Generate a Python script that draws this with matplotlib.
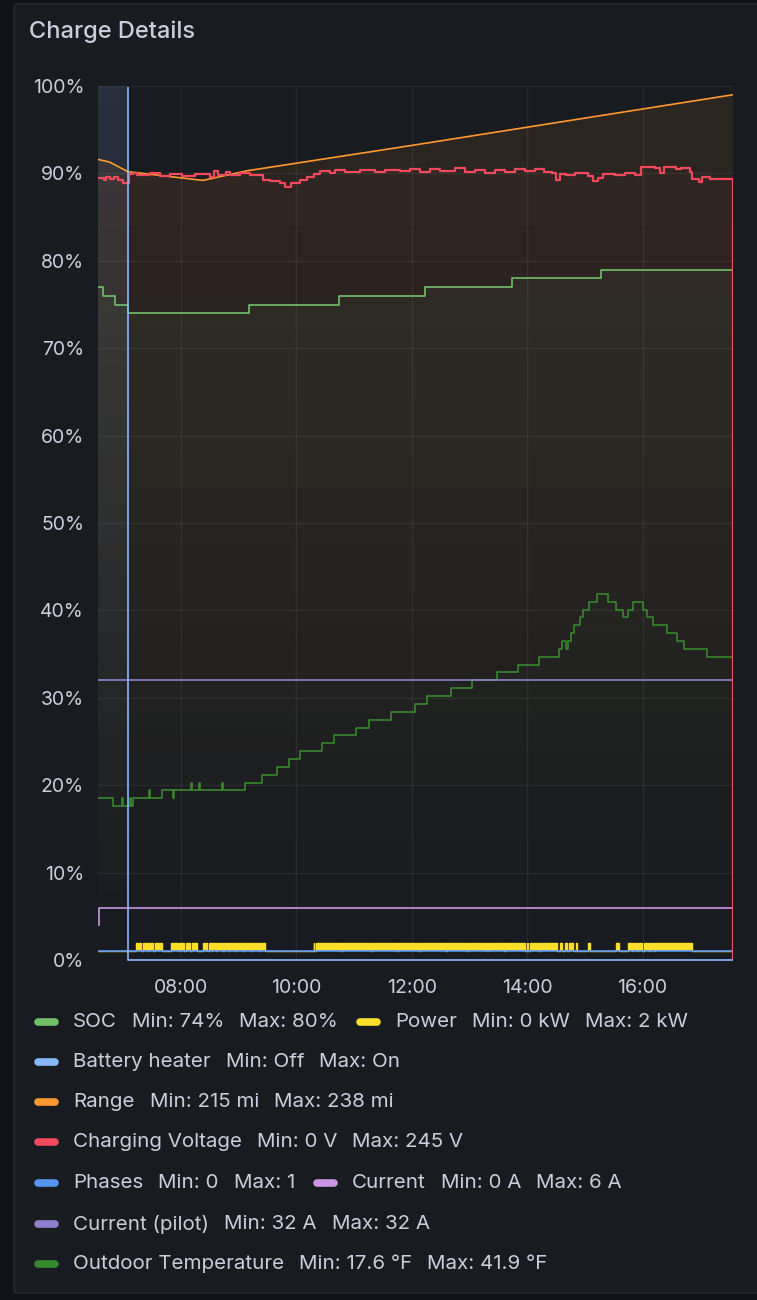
import matplotlib
matplotlib.use("Agg")
import matplotlib.pyplot as plt
import numpy as np
from matplotlib.lines import Line2D
from matplotlib.patches import FancyBboxPatch, Rectangle

plt.rcParams["font.family"] = ["Inter", "DejaVu Sans"]

# time window of the panel
t_start, t_end = "06:34", "17:34"

# SOC (%)
soc_t = ["06:34", "06:39", "06:52", "07:05", "09:11", "10:44", "12:14", "13:44", "15:17", "17:34"]
soc_v = [77, 76, 75, 74, 75, 76, 77, 78, 79, 79]

# Battery heater (drawn as 100 = On, 0 = Off)
heater_t = ["06:34", "07:05", "17:34"]
heater_v = [100, 0, 0]

# Range (as drawn on the % axis)
range_t = ["06:34", "06:46", "07:05", "08:23", "09:09", "12:00", "17:34"]
range_v = [91.6, 91.3, 90.2, 89.2, 90.3, 93.2, 99.0]

# Charging voltage (as drawn on the % axis)
volt_t = ["06:34", "06:40", "06:42", "06:46", "06:51", "06:55", "07:00", "07:06", "07:10", "07:15",
          "07:28", "07:38", "07:49", "08:01", "08:15", "08:30", "08:35", "08:39", "08:47", "08:51",
          "09:02", "09:12", "09:25", "09:33", "09:43", "09:48", "09:55", "10:04", "10:11", "10:19",
          "10:25", "10:35", "10:40", "10:51", "11:06", "11:22", "11:32", "11:48", "11:58", "12:09",
          "12:19", "12:29", "12:45", "12:55", "13:06", "13:16", "13:27", "13:37", "13:47", "13:58",
          "14:08", "14:18", "14:26", "14:30", "14:34", "14:40", "14:50", "15:03", "15:08", "15:14",
          "15:19", "15:31", "15:42", "15:52", "15:58", "16:13", "16:18", "16:22", "16:35", "16:40",
          "16:49", "16:51", "16:59", "17:02", "17:10", "17:34"]
volt_v = [89.5, 89.3, 89.6, 89.4, 89.6, 89.2, 88.9, 89.9, 90.1, 89.8,
          90.0, 89.7, 89.9, 89.7, 89.9, 89.6, 90.3, 89.8, 90.2, 89.8,
          90.0, 89.8, 89.3, 89.1, 88.9, 88.5, 88.9, 89.2, 89.6, 89.9,
          90.3, 90.1, 90.4, 90.2, 90.4, 90.2, 90.4, 90.3, 90.5, 90.2,
          90.5, 90.3, 90.6, 90.2, 90.4, 90.1, 90.4, 90.2, 90.5, 90.3,
          90.5, 90.2, 90.0, 89.3, 89.9, 89.8, 90.0, 89.7, 89.1, 89.5,
          89.9, 89.8, 90.0, 89.8, 90.7, 90.6, 90.1, 90.7, 90.5, 90.6,
          90.2, 89.4, 89.0, 89.6, 89.4, 0]

# Power: 1 kW baseline, 2 kW during these intervals
power_base = 1
power_high = 2
power_on = [("07:13", "07:19"), ("07:21", "07:26"), ("07:27", "07:31"), ("07:33", "07:40"),
            ("07:50", "07:57"), ("07:58", "08:03"), ("08:05", "08:10"), ("08:12", "08:17"),
            ("08:23", "08:27"), ("08:29", "08:32"), ("08:33", "08:37"), ("08:38", "08:44"),
            ("08:45", "08:50"), ("08:51", "08:57"), ("08:58", "09:05"), ("09:06", "09:14"),
            ("09:15", "09:20"), ("09:21", "09:28"),
            ("10:18", "10:19"), ("10:21", "10:47"), ("10:48", "11:18"), ("11:19", "11:45"),
            ("11:46", "12:08"), ("12:09", "12:36"), ("12:37", "12:59"), ("13:00", "13:18"),
            ("13:19", "13:36"), ("13:37", "13:58"), ("14:00", "14:01"), ("14:03", "14:12"),
            ("14:13", "14:31"), ("14:34", "14:36"), ("14:39", "14:41"), ("14:44", "14:48"),
            ("14:51", "14:52"), ("15:03", "15:05"), ("15:32", "15:36"), ("15:45", "15:49"),
            ("15:50", "15:54"), ("15:55", "15:59"), ("16:02", "16:07"), ("16:08", "16:12"),
            ("16:13", "16:51")]

# Phases, current, pilot current
phases_t = ["06:34", "17:34"]
phases_v = [1, 0]
current_t = ["06:34", "06:35", "17:34"]
current_v = [4, 6, 0]
pilot_t = ["06:34", "17:34"]
pilot_v = [32, 32]

# Outdoor temperature (°F)
temp_t = ["06:34", "06:50", "06:59", "07:00", "07:07", "07:08", "07:10", "07:27", "07:28", "07:41",
          "07:52", "07:53", "08:11", "08:12", "08:19", "08:20", "08:43", "08:44", "09:07", "09:24",
          "09:40", "09:52", "10:04", "10:27", "10:39", "11:02", "11:16", "11:39", "12:03", "12:16",
          "12:41", "13:03", "13:29", "13:51", "14:12", "14:33", "14:36", "14:40", "14:42", "14:46",
          "14:49", "14:55", "14:58", "15:04", "15:13", "15:24", "15:32", "15:40", "15:45", "15:50",
          "16:00", "16:05", "16:11", "16:25", "16:36", "16:43", "17:07", "17:34"]
temp_v = [18.5, 17.6, 18.5, 17.6, 18.5, 17.6, 18.5, 19.4, 18.5, 19.4,
          18.5, 19.4, 20.3, 19.4, 20.3, 19.4, 20.3, 19.4, 20.3, 21.2,
          22.1, 23.0, 23.9, 24.8, 25.7, 26.6, 27.5, 28.4, 29.3, 30.2,
          31.1, 32.0, 32.9, 33.8, 34.7, 35.6, 36.5, 35.6, 36.5, 37.4,
          38.3, 39.2, 40.1, 41.0, 41.9, 41.0, 40.1, 39.2, 40.1, 41.0,
          40.1, 39.2, 38.3, 37.4, 36.5, 35.6, 34.7, 34.7]

xticks = ["08:00", "10:00", "12:00", "14:00", "16:00"]

legend_rows = [
    [("SOC", "Min: 74%", "Max: 80%", "#73BF69"), ("Power", "Min: 0 kW", "Max: 2 kW", "#FADE2A")],
    [("Battery heater", "Min: Off", "Max: On", "#8AB8FF")],
    [("Range", "Min: 215 mi", "Max: 238 mi", "#FF9830")],
    [("Charging Voltage", "Min: 0 V", "Max: 245 V", "#F2495C")],
    [("Phases", "Min: 0", "Max: 1", "#5794F2"), ("Current", "Min: 0 A", "Max: 6 A", "#CA95E5")],
    [("Current (pilot)", "Min: 32 A", "Max: 32 A", "#8F80CC")],
    [("Outdoor Temperature", "Min: 17.6 °F", "Max: 41.9 °F", "#37872D")],
]


def hrs(s):
    h, m = s.split(":")
    return int(h) + int(m) / 60


def hl(ts):
    return np.array([hrs(s) for s in ts])


W, H = 757, 1300
TXT = "#ccccdc"

fig = plt.figure(figsize=(W / 100, H / 100), dpi=100, facecolor="#111217")


def fx(x):
    return x / W


def fy(y):
    return 1 - y / H


panel = FancyBboxPatch((fx(14), fy(1293)), fx(780) - fx(14), fy(4) - fy(1293),
                       boxstyle="round,pad=0,rounding_size=0.004", transform=fig.transFigure,
                       facecolor="#181b1f", edgecolor="#2a2d33", lw=1, zorder=-5)
fig.patches.append(panel)
fig.text(fx(29), fy(32), "Charge Details", color=TXT, fontsize=17, va="center", ha="left",
         fontweight="medium")

ax = fig.add_axes([fx(98), fy(960), fx(733) - fx(98), fy(86) - fy(960)])
ax.set_facecolor("none")
x0, x1 = hrs(t_start), hrs(t_end)


def grad_fill(t, v, color, a_top, step=True, n=50):
    # fill under a series, fading towards the bottom (grafana "opacity" gradient)
    shape = ax.fill_between(t, v, 0, step="post" if step else None, alpha=0, lw=0)
    clip = shape.get_paths()[0]
    edges = np.linspace(0, 100, n + 1)
    for lo, hi in zip(edges[:-1], edges[1:]):
        band = ax.fill_between([x0, x1], lo, hi, color=color, alpha=a_top * (lo + hi) / 200,
                               lw=0, antialiased=False, zorder=0.5)
        band.set_clip_path(clip, transform=ax.transData)


grad_fill(hl(heater_t), heater_v, "#8AB8FF", 0.13)
grad_fill(hl(range_t), range_v, "#FF9830", 0.09, step=False)
grad_fill(hl(volt_t), volt_v, "#F2495C", 0.03)
grad_fill(hl(soc_t), soc_v, "#73BF69", 0.07)
grad_fill(hl(temp_t), temp_v, "#37872D", 0.05)

# power bursts
pt = [hrs(t_start)]
pv = [power_base]
for a, b in power_on:
    pt += [hrs(a), hrs(b)]
    pv += [power_high, power_base]
pt.append(hrs(t_end))
pv.append(0)
ax.fill_between(pt, power_base, pv, step="post", color="#FADE2A", lw=0, zorder=2)
ax.step(pt, pv, where="post", color="#FADE2A", lw=1.0, zorder=2)

lw = 1.2
ax.step(hl(temp_t), temp_v, where="post", color="#37872D", lw=lw, zorder=3)
ax.step(hl(pilot_t), pilot_v, where="post", color="#8F80CC", lw=lw, zorder=3)
ax.step(hl(soc_t), soc_v, where="post", color="#73BF69", lw=lw, zorder=3)
ax.step(hl(current_t), current_v, where="post", color="#CA95E5", lw=lw, zorder=3)
ax.step(hl(phases_t), phases_v, where="post", color="#5794F2", lw=lw, zorder=3)
ax.plot(hl(range_t), range_v, color="#FF9830", lw=lw, zorder=4)
ax.step(hl(volt_t), volt_v, where="post", color="#F2495C", lw=1.6, zorder=4)
heater_line, = ax.step(hl(heater_t), heater_v, where="post", color="#8AB8FF", lw=lw, zorder=5)
# the "On" level sits on the top edge; hide that segment like grafana does
heater_line.set_clip_path(Rectangle((x0, -1), x1 - x0, 100.85, transform=ax.transData))

ax.set_xlim(x0, x1)
ax.set_ylim(0, 100)
ax.set_yticks(range(0, 101, 10))
ax.set_yticklabels([f"{v}%" for v in range(0, 101, 10)])
ax.set_xticks(hl(xticks))
ax.set_xticklabels(xticks)
ax.tick_params(colors=TXT, labelsize=14, length=0)
ax.tick_params(axis="y", pad=10)
ax.tick_params(axis="x", pad=14)
ax.grid(True, color="#ccccdc", alpha=0.08, lw=1)
ax.set_axisbelow(True)
for s in ax.spines.values():
    s.set_visible(False)

# legend
renderer = fig.canvas.get_renderer()
row_y = [1022, 1062, 1102, 1142, 1183, 1224, 1264]
for y, row in zip(row_y, legend_rows):
    x = 35
    for name, mn, mx, col in row:
        fig.add_artist(Line2D([fx(x + 3), fx(x + 20)], [fy(y), fy(y)], color=col, lw=5.5,
                              solid_capstyle="round", transform=fig.transFigure))
        tx = x + 38
        for piece in (name, mn, mx):
            t = fig.text(fx(tx), fy(y), piece, color=TXT, fontsize=14.8, va="center", ha="left")
            tx = t.get_window_extent(renderer).x1 + 15
        x = tx + 4

fig.savefig("out.png", dpi=100, facecolor=fig.get_facecolor())
